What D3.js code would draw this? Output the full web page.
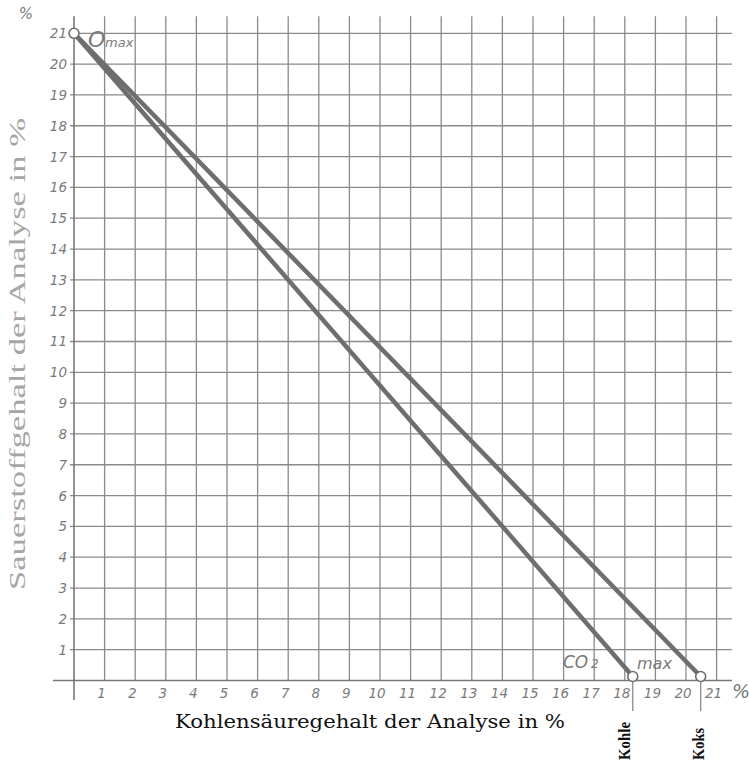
<!DOCTYPE html>
<html>
<head>
<meta charset="utf-8">
<script src="https://cdn.jsdelivr.net/npm/d3@7"></script>
<style>
  html, body { margin: 0; padding: 0; background: #fff; }
  svg { display: block; }
</style>
</head>
<body>
<script>
// Ticks on both axes (percent)
const xTicks = d3.range(1, 22);
const yTicks = d3.range(1, 22);

// CO2 max for each fuel at 0 % O2; both lines start at O2 max = 21 %
const fuels = ["Kohle", "Koks"];
const co2Max = [18.26, 20.48];
const o2Max = 21;

const W = 749, H = 761;
const svg = d3.select("body").append("svg").attr("width", W).attr("height", H);

const x = d3.scaleLinear().domain([0, 21]).range([74, 716.6]);
const y = d3.scaleLinear().domain([0, 21]).range([680.5, 33.3]);

const gridColor = "#8a8a8a";
const inkColor = "#7a7a7a";
const hand = "'DejaVu Sans', sans-serif";

// Grid
const grid = svg.append("g").attr("stroke", gridColor).attr("stroke-width", 1.3);
grid.selectAll("line.v").data(xTicks).join("line")
  .attr("x1", d => x(d)).attr("x2", d => x(d))
  .attr("y1", y(0)).attr("y2", y(21.55));
grid.selectAll("line.h").data(yTicks).join("line")
  .attr("x1", x(0) - 4).attr("x2", x(21.5))
  .attr("y1", d => y(d)).attr("y2", d => y(d));

// Axes
const axes = svg.append("g").attr("stroke", "#777").attr("stroke-width", 1.6);
axes.append("line").attr("x1", 53).attr("x2", x(21.5)).attr("y1", y(0)).attr("y2", y(0));
axes.append("line").attr("x1", x(0)).attr("x2", x(0)).attr("y1", 700).attr("y2", y(21.55));

// Drop lines below the axis at each fuel's CO2 max
svg.append("g").selectAll("line").data(co2Max).join("line")
  .attr("stroke", gridColor).attr("stroke-width", 1.3)
  .attr("x1", d => x(d)).attr("x2", d => x(d))
  .attr("y1", y(0)).attr("y2", 711);

// Tick labels
svg.append("g").selectAll("text").data(xTicks).join("text")
  .attr("x", d => x(d) - 3).attr("y", 698)
  .attr("text-anchor", "middle")
  .attr("font-family", hand).attr("font-size", 13.5).attr("font-style", "italic")
  .attr("fill", inkColor)
  .text(d => d);
svg.append("g").selectAll("text").data(yTicks).join("text")
  .attr("x", 67).attr("y", d => y(d) + 5)
  .attr("text-anchor", "end")
  .attr("font-family", hand).attr("font-size", 13.5).attr("font-style", "italic")
  .attr("fill", inkColor)
  .text(d => d);

// Percent signs at the axis ends
svg.append("text").attr("x", 26).attr("y", 19).attr("text-anchor", "middle")
  .attr("font-family", hand).attr("font-size", 15).attr("font-style", "italic")
  .attr("fill", inkColor).text("%");
svg.append("text").attr("x", 741).attr("y", 698).attr("text-anchor", "middle")
  .attr("font-family", hand).attr("font-size", 19).attr("font-style", "italic")
  .attr("fill", inkColor).text("%");

// Fuel lines
svg.append("g").selectAll("line").data(co2Max).join("line")
  .attr("stroke", "#6e6e6e").attr("stroke-width", 4.5).attr("stroke-linecap", "round")
  .attr("x1", x(0)).attr("y1", y(o2Max))
  .attr("x2", d => x(d)).attr("y2", y(0) - 4);

// End points
const pts = [[0, o2Max]].concat(co2Max.map(d => [d, 0]));
svg.append("g").selectAll("circle").data(pts).join("circle")
  .attr("cx", d => x(d[0])).attr("cy", d => d[1] === 0 ? y(0) - 4 : y(d[1]))
  .attr("r", 5).attr("fill", "#fff").attr("stroke", "#6e6e6e").attr("stroke-width", 1.6);

// Annotations
const ann = svg.append("g").attr("font-family", hand).attr("font-style", "italic").attr("fill", inkColor);
ann.append("text").attr("x", 88).attr("y", 47).attr("font-size", 22).text("O");
ann.append("text").attr("x", 105).attr("y", 47).attr("font-size", 13).text("max");
ann.append("text").attr("x", 563).attr("y", 668).attr("font-size", 17).text("CO");
ann.append("text").attr("x", 591).attr("y", 668).attr("font-size", 12).text("2");
ann.append("text").attr("x", 637).attr("y", 669).attr("font-size", 16).text("max");

// Axis titles
svg.append("text")
  .attr("x", 370).attr("y", 728).attr("text-anchor", "middle")
  .attr("font-family", "'DejaVu Serif', serif").attr("font-size", 19)
  .attr("textLength", 390).attr("lengthAdjust", "spacingAndGlyphs")
  .attr("fill", "#111")
  .text("Kohlensäuregehalt der Analyse in %");
svg.append("text")
  .attr("transform", "translate(25,354) rotate(-90)")
  .attr("text-anchor", "middle")
  .attr("font-family", "'Liberation Serif', serif").attr("font-size", 23)
  .attr("textLength", 472).attr("lengthAdjust", "spacingAndGlyphs")
  .attr("fill", "#a6a6a6")
  .text("Sauerstoffgehalt der Analyse in %");

// Fuel names under the drop lines
svg.append("g").selectAll("text").data(fuels).join("text")
  .attr("transform", (d, i) => `translate(${i === 0 ? 630 : 704},760) rotate(-90)`)
  .attr("font-family", "'Liberation Serif', serif").attr("font-weight", "bold")
  .attr("font-size", 16).attr("fill", "#111")
  .attr("textLength", (d, i) => i === 0 ? 38 : 32).attr("lengthAdjust", "spacingAndGlyphs")
  .text(d => d);
</script>
</body>
</html>
